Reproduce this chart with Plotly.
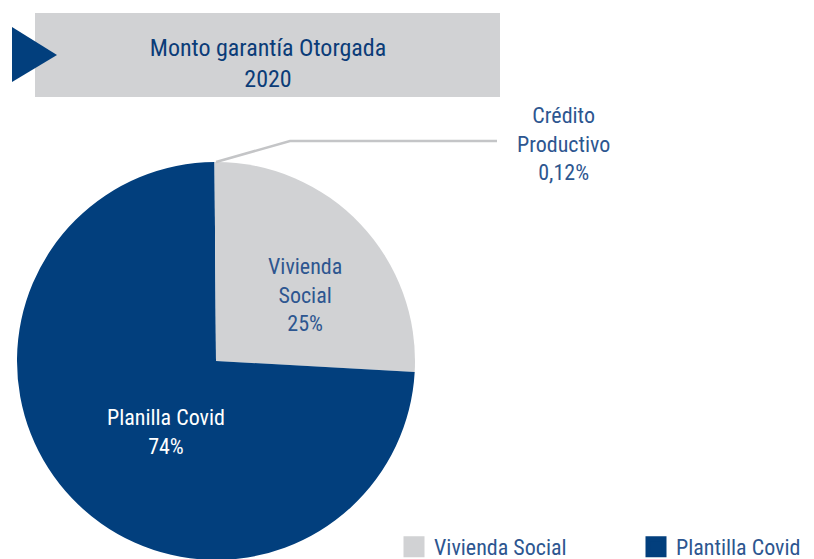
import plotly.graph_objects as go

# datos del gráfico
legend_labels = ["Vivienda Social", "Plantilla Covid", "Crédito Productivo"]
slice_names = ["Vivienda<br>Social", "Planilla Covid", "Crédito<br>Productivo"]
values = [25.88, 74.0, 0.12]
pct_text = ["25%", "74%", "0,12%"]

BLUE = "#023f7d"
GRAY = "#d1d2d4"
TEXT_BLUE = "#2d5690"
FONT = "Liberation Sans Narrow, Roboto Condensed, DejaVu Sans Condensed, sans-serif"

W, H = 814, 559
OFF = 8  # margen del body de la página


def px(x):
    return (x - OFF) / W


def py(y):
    return 1 - (y - OFF) / H


fig = go.Figure()

fig.add_trace(go.Pie(
    labels=legend_labels,
    values=values,
    textinfo="none",
    marker=dict(colors=[GRAY, BLUE, GRAY], line=dict(width=0)),
    sort=False,
    direction="clockwise",
    rotation=0,
    showlegend=False,
    hoverinfo="label+percent",
    domain=dict(x=[px(17), px(415)], y=[py(560), py(162)]),
))

# entradas de leyenda (solo dos visibles como en el original)
for name, col in zip(legend_labels[:2], [GRAY, BLUE]):
    fig.add_trace(go.Scatter(
        x=[None], y=[None], mode="markers", name=name,
        marker=dict(symbol="square", size=16, color=col, line=dict(color=col, width=5)),
    ))

# etiquetas de las porciones
label_pos = [(305, 295), (166, 432), (563, 144)]
label_col = [TEXT_BLUE, "white", TEXT_BLUE]
for (lx, ly), name, pct, col in zip(label_pos, slice_names, pct_text, label_col):
    fig.add_annotation(
        x=px(lx), y=py(ly), xref="paper", yref="paper",
        xanchor="center", yanchor="middle",
        text=f"{name}<br>{pct}", showarrow=False, align="center",
        font=dict(family=FONT, size=22, color=col),
    )

# caja del título
fig.add_shape(type="rect", xref="paper", yref="paper",
              x0=px(35), x1=px(500), y0=py(97), y1=py(13),
              fillcolor=GRAY, line=dict(width=0), layer="below")
fig.add_shape(type="path", xref="paper", yref="paper",
              path=f"M {px(12)},{py(27)} L {px(12)},{py(82)} L {px(57)},{py(55)} Z",
              fillcolor=BLUE, line=dict(width=0))

# línea guía de Crédito Productivo
fig.add_shape(type="path", xref="paper", yref="paper",
              path=f"M {px(216)},{py(162)} L {px(290)},{py(141)} L {px(497)},{py(141)}",
              line=dict(color="#c4c5c7", width=2.5))

fig.update_layout(
    width=W, height=H,
    margin=dict(l=0, r=0, t=0, b=0, autoexpand=False),
    paper_bgcolor="white", plot_bgcolor="white",
    title=dict(text="Monto garantía Otorgada<br>2020", x=px(268), xanchor="center",
               y=py(56), yanchor="middle",
               font=dict(family=FONT, size=24, color="#0b3c78")),
    xaxis=dict(visible=False), yaxis=dict(visible=False),
    legend=dict(orientation="h", x=px(394), xanchor="left", y=py(547), yanchor="middle",
                font=dict(family=FONT, size=22, color=TEXT_BLUE),
                entrywidth=197, bgcolor="rgba(0,0,0,0)"),
)

fig.write_html("out.html")
